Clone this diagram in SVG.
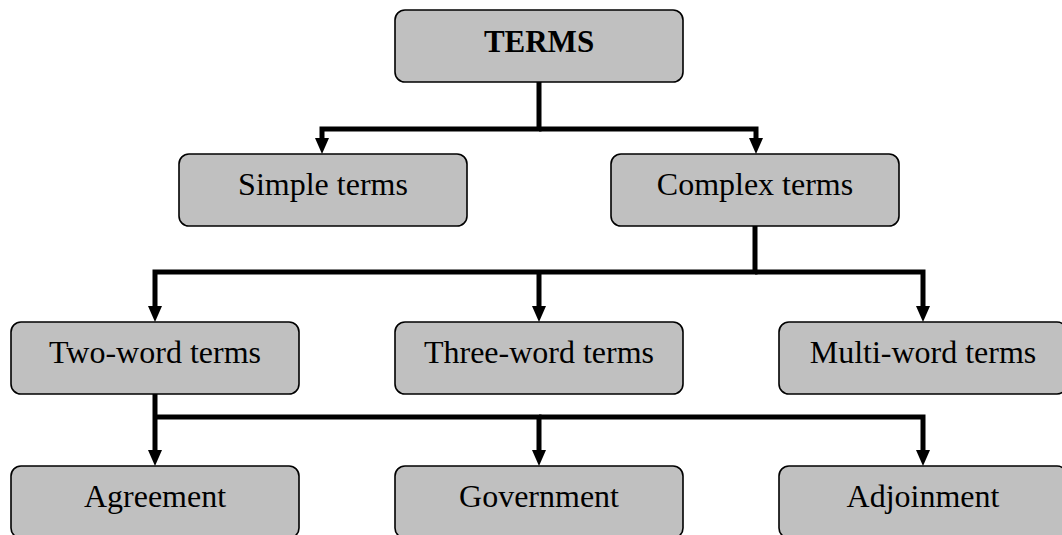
<svg xmlns="http://www.w3.org/2000/svg" width="1062" height="535" viewBox="0 0 1062 535">
<style>
.box{fill:#c0c0c0;stroke:#000;stroke-width:1.6}
.lbl{font-family:"Liberation Serif","Times New Roman",serif;font-size:32px;fill:#000;text-anchor:middle}
.b{font-weight:bold;font-size:31px}
.con{fill:none;stroke:#000;stroke-width:5;stroke-linejoin:miter;marker-end:url(#ah)}
</style>
<defs>
<marker id="ah" markerUnits="userSpaceOnUse" viewBox="0 -7 16 14" refX="0" refY="0" markerWidth="16" markerHeight="14" orient="auto">
<path d="M0,-7 L16,0 L0,7 z" fill="#000"/>
</marker>
</defs>
<rect width="1062" height="535" fill="#fff"/>
<g id="connectors">
<path class="con" d="M539,82 V129 H322 V138"/>
<path class="con" d="M539,129 H756 V138"/>
<path class="con" d="M755,226 V272 H155 V306"/>
<path class="con" d="M539,272 V306"/>
<path class="con" d="M755,272 H923 V306"/>
<path class="con" d="M155,394 V417 H155 V450"/>
<path class="con" d="M155,417 H539 V450"/>
<path class="con" d="M539,417 H923 V450"/>
</g>
<g id="n-terms"><rect class="box" x="395" y="10" width="288" height="72" rx="10"/><text class="lbl b" x="539" y="52">TERMS</text></g>
<g id="n-simple"><rect class="box" x="179" y="154" width="288" height="72" rx="10"/><text class="lbl" x="323" y="195">Simple terms</text></g>
<g id="n-complex"><rect class="box" x="611" y="154" width="288" height="72" rx="10"/><text class="lbl" x="755" y="195">Complex terms</text></g>
<g id="n-two"><rect class="box" x="11" y="322" width="288" height="72" rx="10"/><text class="lbl" x="155" y="363">Two-word terms</text></g>
<g id="n-three"><rect class="box" x="395" y="322" width="288" height="72" rx="10"/><text class="lbl" x="539" y="363">Three-word terms</text></g>
<g id="n-multi"><rect class="box" x="779" y="322" width="288" height="72" rx="10"/><text class="lbl" x="923" y="363">Multi-word terms</text></g>
<g id="n-agreement"><rect class="box" x="11" y="466" width="288" height="72" rx="10"/><text class="lbl" x="155" y="507">Agreement</text></g>
<g id="n-government"><rect class="box" x="395" y="466" width="288" height="72" rx="10"/><text class="lbl" x="539" y="507">Government</text></g>
<g id="n-adjoinment"><rect class="box" x="779" y="466" width="288" height="72" rx="10"/><text class="lbl" x="923" y="507">Adjoinment</text></g>
</svg>
